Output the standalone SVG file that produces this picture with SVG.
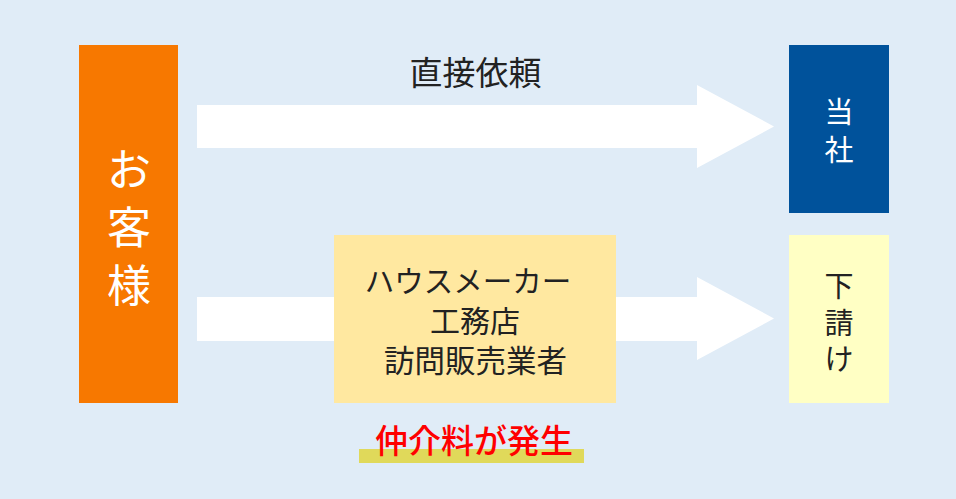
<svg xmlns="http://www.w3.org/2000/svg" width="956" height="499" viewBox="0 0 956 499">
<style>
text{font-family:"Noto Sans CJK JP","Noto Sans",sans-serif;text-anchor:middle}
.dark{fill:#222222}
.white{fill:#ffffff}
.arrow{fill:#ffffff}
</style>
<rect x="0" y="0" width="956" height="499" fill="#e0ecf7"/>
<g id="connectors">
<polygon class="arrow" points="197,105 697,105 697,85 774,126.5 697,168 697,148 197,148"/>
<polygon class="arrow" points="197,297 697,297 697,277 774,318.5 697,360 697,341 197,341"/>
</g>
<g id="label-direct">
<text class="dark" x="475.5" y="85" font-size="33">直接依頼</text>
</g>
<g id="node-customer">
<rect x="79" y="45" width="99" height="358" fill="#f77800"/>
<text class="white" x="129" y="186" font-size="44">お</text>
<text class="white" x="129" y="244" font-size="44">客</text>
<text class="white" x="129" y="302" font-size="44">様</text>
</g>
<g id="node-company">
<rect x="789" y="45" width="100" height="168" fill="#00529b"/>
<text class="white" x="839" y="123" font-size="29">当</text>
<text class="white" x="839" y="161" font-size="29">社</text>
</g>
<g id="node-sub">
<rect x="789" y="235" width="100" height="168" fill="#ffffc4"/>
<text class="dark" x="839" y="297" font-size="29">下</text>
<text class="dark" x="839" y="334" font-size="29">請</text>
<text class="dark" x="839" y="370" font-size="29">け</text>
</g>
<g id="node-middle">
<rect x="334" y="235" width="282" height="168" fill="#ffe8a0"/>
<text class="dark" x="468" y="292" font-size="29.5">ハウスメーカー</text>
<text class="dark" x="475" y="332" font-size="30">工務店</text>
<text class="dark" x="475.5" y="372" font-size="30.5">訪問販売業者</text>
</g>
<g id="label-fee">
<rect x="359" y="449" width="225" height="14" fill="#e0d95a"/>
<text x="474" y="453" font-size="33" font-weight="500" fill="#ff0000">仲介料が発生</text>
</g>
</svg>
